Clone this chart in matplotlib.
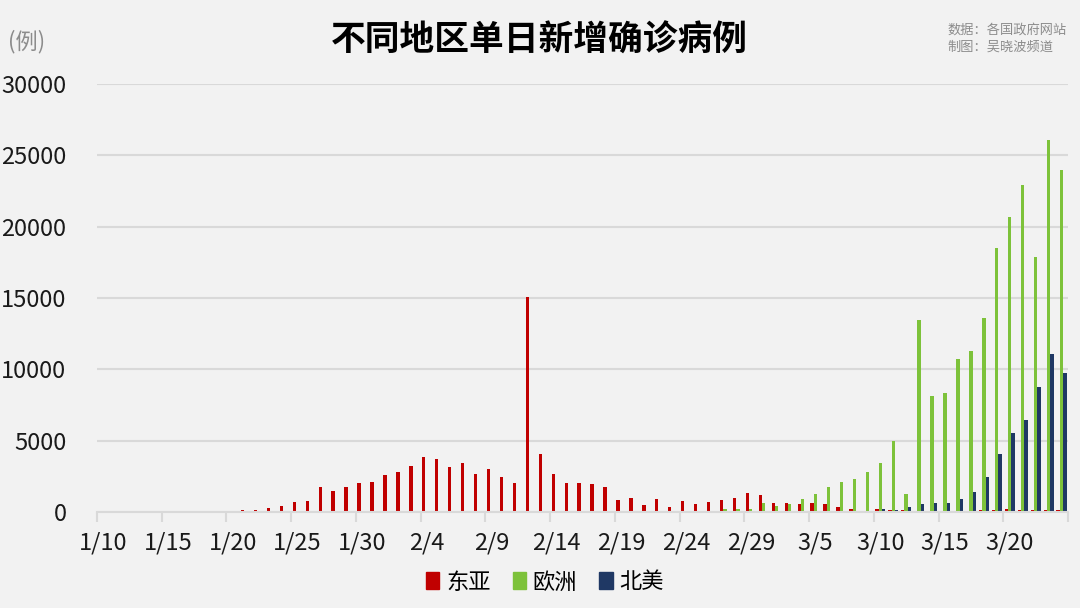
import pandas as pd
from matplotlib import pyplot as plt
from matplotlib.patches import Patch

plt.rcParams['font.family'] = ['Noto Sans CJK SC', 'DejaVu Sans']

# daily new confirmed cases, 1/10 .. 3/24 (75 days)
dates = pd.date_range("2020-01-10", periods=75)
day_labels = [f"{d.month}/{d.day}" for d in dates]

east_asia = [0] * 11 + [
    110, 160, 250, 450, 700, 800, 1750, 1450, 1750, 2000,
    2100, 2580, 2810, 3220, 3870, 3710, 3150, 3400, 2630, 2980,
    2450, 2030, 15100, 4060, 2640, 2030, 2030, 1930, 1750, 840,
    980, 490, 910, 370, 750, 560, 680, 820, 970, 1320,
    1200, 660, 610, 540, 610, 540, 350, 240, 50, 240,
    120, 120, 50, 50, 50, 50, 50, 165, 120, 240,
    120, 120, 165, 165,
]
europe = [0] * 47 + [
    50, 220, 240, 240, 660, 400, 540, 900, 1250, 1720,
    2100, 2310, 2800, 3440, 4950, 1250, 13450, 8160, 8340, 10720,
    11290, 13580, 18500, 20670, 22920, 17890, 26070, 23940,
]
north_america = [0] * 58 + [
    50, 50, 240, 165, 350, 540, 660, 660, 900, 1370,
    2450, 4050, 5540, 6430, 8770, 11050, 9730,
]

series = [("东亚", east_asia, "#c00000"),
          ("欧洲", europe, "#7dc23a"),
          ("北美", north_america, "#1f3864")]

bg = "#f2f2f2"
fig = plt.figure(figsize=(10.8, 6.08), dpi=100, facecolor=bg)
ax = fig.add_axes([97 / 1080, 1 - 512 / 608, 971 / 1080, 428 / 608], facecolor=bg)

x = list(range(len(dates)))
w = 0.26
for k, (name, vals, col) in enumerate(series):
    ax.bar([i + (k - 1) * w for i in x], vals, width=w, color=col, label=name, zorder=3)

ax.set_xlim(-0.5, len(dates) - 0.5)
ax.set_ylim(0, 30000)
ax.set_yticks(range(0, 30001, 5000))
ax.tick_params(axis='y', length=0, labelsize=17, pad=22, labelcolor="#1a1a1a")
ax.grid(axis='y', color="#d9d9d9", linewidth=1.5, zorder=0)

ax.set_xticks([i - 0.5 for i in range(0, len(dates) + 1, 5)])
ax.set_xticklabels([])
ax.set_xticks(range(0, len(dates), 5), minor=True)
ax.set_xticklabels(day_labels[::5], minor=True)
ax.tick_params(axis='x', which='major', length=7, width=1.5, color="#d9d9d9")
ax.tick_params(axis='x', which='minor', length=0, labelsize=17, pad=14, labelcolor="#1a1a1a")

for s in ["top", "right", "left"]:
    ax.spines[s].set_visible(False)
ax.spines["bottom"].set_color("#d9d9d9")
ax.spines["bottom"].set_linewidth(1.5)
ax.spines["bottom"].set_zorder(4)

fig.text(539 / 1080, 1 - 40 / 608, "不同地区单日新增确诊病例", ha="center", va="center",
         fontsize=25, fontweight="bold", color="black")
fig.text(8 / 1080, 1 - 42 / 608, "(例)", ha="left", va="center", fontsize=16, color="#8c8c8c")
fig.text(947 / 1080, 1 - 30 / 608, "数据：各国政府网站", ha="left", va="center",
         fontsize=9.5, color="#8c8c8c")
fig.text(947 / 1080, 1 - 47 / 608, "制图：吴晓波频道", ha="left", va="center",
         fontsize=9.5, color="#8c8c8c")

handles = [Patch(color=col, label=name) for name, _, col in series]
fig.legend(handles=handles, loc="center", bbox_to_anchor=(545 / 1080, 1 - 582 / 608), ncol=3,
           frameon=False, fontsize=16, handlelength=0.6, handleheight=0.8,
           handletextpad=0.3, columnspacing=1.0)

fig.savefig("out.png", dpi=100, facecolor=bg)
